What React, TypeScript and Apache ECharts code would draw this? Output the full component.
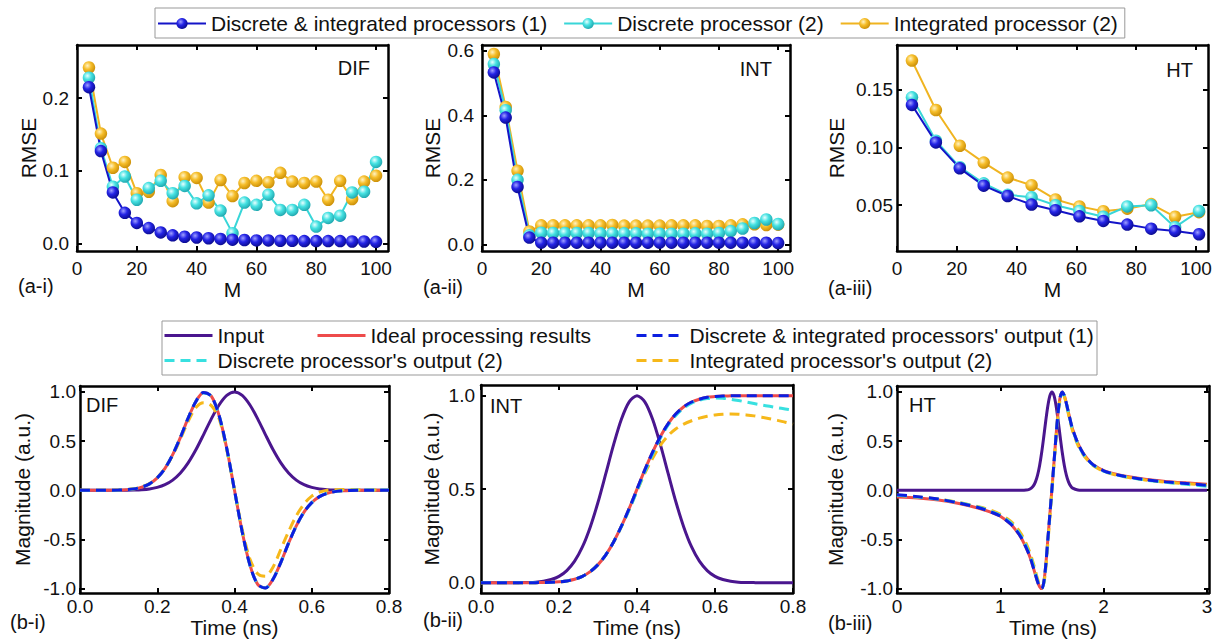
import React, { useEffect, useRef } from "react";
import * as echarts from "echarts";

// ---------------- data ----------------
const mDifInt = [4, 8, 12, 16, 20, 24, 28, 32, 36, 40, 44, 48, 52, 56, 60, 64, 68, 72, 76, 80, 84, 88, 92, 96, 100];
const mHT = [5, 13, 21, 29, 37, 45, 53, 61, 69, 77, 85, 93, 101];

const difRmseBoth = [0.215, 0.127, 0.07, 0.042, 0.028, 0.021, 0.015, 0.011, 0.009, 0.008, 0.007, 0.006, 0.005, 0.0045, 0.004, 0.004, 0.0035, 0.0035, 0.003, 0.003, 0.003, 0.003, 0.0025, 0.0025, 0.002];
const difRmseDisc = [0.228, 0.131, 0.078, 0.092, 0.06, 0.076, 0.086, 0.069, 0.079, 0.055, 0.066, 0.045, 0.014, 0.056, 0.053, 0.067, 0.046, 0.046, 0.053, 0.023, 0.035, 0.038, 0.07, 0.071, 0.112];
const difRmseInteg = [0.242, 0.151, 0.104, 0.112, 0.069, 0.071, 0.094, 0.058, 0.091, 0.09, 0.056, 0.087, 0.065, 0.083, 0.086, 0.084, 0.097, 0.085, 0.083, 0.085, 0.06, 0.086, 0.061, 0.085, 0.093];

const intRmseBoth = [0.533, 0.393, 0.178, 0.021, 0.005, 0.005, 0.005, 0.005, 0.005, 0.005, 0.005, 0.005, 0.005, 0.005, 0.005, 0.005, 0.005, 0.005, 0.005, 0.005, 0.005, 0.005, 0.005, 0.005, 0.004];
const intRmseDisc = [0.559, 0.416, 0.2, 0.028, 0.036, 0.035, 0.035, 0.035, 0.035, 0.034, 0.034, 0.034, 0.034, 0.033, 0.033, 0.033, 0.033, 0.034, 0.033, 0.035, 0.041, 0.049, 0.066, 0.077, 0.063];
const intRmseInteg = [0.59, 0.426, 0.228, 0.04, 0.059, 0.059, 0.059, 0.059, 0.059, 0.059, 0.06, 0.058, 0.058, 0.058, 0.058, 0.059, 0.059, 0.059, 0.057, 0.057, 0.059, 0.062, 0.062, 0.06, 0.061];

const htRmseBoth = [0.137, 0.1045, 0.082, 0.067, 0.058, 0.0506, 0.0457, 0.0404, 0.0364, 0.0332, 0.0297, 0.0277, 0.0248];
const htRmseDisc = [0.1436, 0.106, 0.083, 0.069, 0.059, 0.057, 0.05, 0.045, 0.04, 0.049, 0.05, 0.031, 0.045];
const htRmseInteg = [0.1755, 0.1326, 0.1016, 0.087, 0.074, 0.0674, 0.055, 0.049, 0.0448, 0.047, 0.051, 0.04, 0.044];

const pulseTime = [0, 0.02, 0.04, 0.06, 0.08, 0.1, 0.12, 0.14, 0.16, 0.18, 0.2, 0.22, 0.24, 0.26, 0.28, 0.3, 0.32, 0.34, 0.36, 0.38, 0.4, 0.42, 0.44, 0.46, 0.48, 0.5, 0.52, 0.54, 0.56, 0.58, 0.6, 0.62, 0.64, 0.66, 0.68, 0.7, 0.72, 0.74, 0.76, 0.78, 0.8];

const difInput = [0, 0, 0, 0, 0.0001, 0.0003, 0.0009, 0.0025, 0.006, 0.0135, 0.029, 0.056, 0.103, 0.175, 0.278, 0.411, 0.566, 0.726, 0.867, 0.965, 1.0, 0.965, 0.867, 0.726, 0.566, 0.411, 0.278, 0.175, 0.103, 0.056, 0.029, 0.0135, 0.006, 0.0025, 0.0009, 0.0003, 0.0001, 0, 0, 0, 0];
const difIdeal = [0, 0, 0, 0, 0.0005, 0.002, 0.006, 0.014, 0.032, 0.065, 0.126, 0.222, 0.362, 0.538, 0.733, 0.903, 0.995, 0.957, 0.762, 0.424, 0, -0.424, -0.762, -0.957, -0.995, -0.903, -0.733, -0.538, -0.362, -0.222, -0.126, -0.065, -0.032, -0.014, -0.006, -0.002, -0.0005, 0, 0, 0, 0];
const difBoth = [0, 0, 0, 0, 0.0005, 0.002, 0.006, 0.014, 0.032, 0.065, 0.126, 0.222, 0.362, 0.538, 0.733, 0.903, 0.995, 0.957, 0.762, 0.424, 0, -0.424, -0.762, -0.957, -0.995, -0.903, -0.733, -0.538, -0.362, -0.222, -0.126, -0.065, -0.032, -0.014, -0.006, -0.002, -0.0005, 0, 0, 0, 0];
const difDisc = [0, 0, 0, 0, 0.0005, 0.002, 0.006, 0.014, 0.032, 0.065, 0.126, 0.222, 0.362, 0.538, 0.733, 0.903, 0.99, 0.955, 0.762, 0.424, 0, -0.424, -0.762, -0.957, -0.995, -0.903, -0.733, -0.538, -0.362, -0.222, -0.126, -0.065, -0.03, -0.012, -0.004, 0, 0.002, 0.003, 0.003, 0.002, 0.002];
const difInteg = [0, 0, 0, 0, 0.0005, 0.002, 0.006, 0.015, 0.034, 0.068, 0.128, 0.222, 0.355, 0.52, 0.7, 0.84, 0.89, 0.86, 0.73, 0.41, 0, -0.4, -0.7, -0.85, -0.875, -0.78, -0.6, -0.42, -0.26, -0.14, -0.06, -0.02, 0, 0.006, 0.008, 0.007, 0.005, 0.003, 0.002, 0.001, 0];

const intInput = [0, 0, 0, 0, 0, 0.0005, 0.0013, 0.003, 0.008, 0.017, 0.034, 0.065, 0.115, 0.191, 0.297, 0.43, 0.583, 0.738, 0.874, 0.967, 1.0, 0.967, 0.874, 0.738, 0.583, 0.43, 0.297, 0.191, 0.115, 0.065, 0.034, 0.017, 0.008, 0.003, 0.0013, 0.0005, 0, 0, 0, 0, 0];
const intIdeal = [0, 0, 0, 0, 0, 0.0001, 0.0002, 0.0004, 0.0009, 0.0021, 0.0047, 0.0096, 0.0188, 0.0344, 0.0594, 0.0968, 0.149, 0.218, 0.302, 0.397, 0.5, 0.603, 0.698, 0.782, 0.851, 0.903, 0.941, 0.966, 0.981, 0.991, 0.995, 0.998, 0.999, 1, 1, 1, 1, 1, 1, 1, 1];
const intBoth = [0, 0, 0, 0, 0, 0.0001, 0.0002, 0.0004, 0.0009, 0.0021, 0.0047, 0.0096, 0.0188, 0.0344, 0.0594, 0.0968, 0.149, 0.218, 0.302, 0.397, 0.5, 0.603, 0.698, 0.782, 0.851, 0.903, 0.941, 0.966, 0.981, 0.991, 0.995, 0.998, 0.999, 1, 1, 1, 1, 1, 1, 1, 1];
const intDisc = [0, 0, 0, 0, 0, 0.0001, 0.0002, 0.0004, 0.0009, 0.0021, 0.0047, 0.0096, 0.0188, 0.0344, 0.0594, 0.0968, 0.149, 0.218, 0.3, 0.39, 0.49, 0.592, 0.688, 0.773, 0.843, 0.896, 0.934, 0.96, 0.976, 0.985, 0.988, 0.986, 0.981, 0.974, 0.966, 0.958, 0.95, 0.943, 0.936, 0.929, 0.922];
const intInteg = [0, 0, 0, 0, 0, 0.0001, 0.0002, 0.0004, 0.0009, 0.0021, 0.0047, 0.0096, 0.0188, 0.0344, 0.0594, 0.0968, 0.149, 0.218, 0.3, 0.392, 0.49, 0.585, 0.665, 0.735, 0.787, 0.823, 0.848, 0.866, 0.88, 0.89, 0.897, 0.901, 0.902, 0.901, 0.897, 0.892, 0.885, 0.877, 0.868, 0.858, 0.848];

const htTime = [0, 0.2, 0.4, 0.6, 0.8, 0.9, 1.0, 1.1, 1.15, 1.2, 1.25, 1.28, 1.3, 1.32, 1.34, 1.36, 1.38, 1.4, 1.42, 1.44, 1.46, 1.48, 1.5, 1.52, 1.54, 1.56, 1.58, 1.6, 1.62, 1.64, 1.66, 1.68, 1.7, 1.75, 1.8, 1.85, 1.9, 2.0, 2.1, 2.2, 2.4, 2.6, 2.8, 3.0];
const htInput = [0, 0, 0, 0, 0, 0, 0, 0, 0, 0.0002, 0.0024, 0.0094, 0.021, 0.044, 0.085, 0.151, 0.249, 0.381, 0.539, 0.707, 0.857, 0.962, 1.0, 0.962, 0.857, 0.707, 0.539, 0.381, 0.249, 0.151, 0.085, 0.044, 0.021, 0.0024, 0.0002, 0, 0, 0, 0, 0, 0, 0, 0, 0];
const htIdeal = [-0.07, -0.08, -0.1, -0.135, -0.185, -0.22, -0.265, -0.345, -0.405, -0.48, -0.585, -0.66, -0.72, -0.79, -0.86, -0.93, -0.98, -1.0, -0.94, -0.76, -0.5, -0.24, 0.02, 0.29, 0.56, 0.8, 0.95, 1.0, 0.96, 0.88, 0.79, 0.7, 0.62, 0.48, 0.38, 0.31, 0.26, 0.2, 0.168, 0.145, 0.112, 0.09, 0.075, 0.062];
const htBoth = [-0.045, -0.065, -0.09, -0.13, -0.18, -0.218, -0.263, -0.343, -0.403, -0.478, -0.583, -0.658, -0.718, -0.788, -0.858, -0.928, -0.978, -1.0, -0.94, -0.76, -0.5, -0.24, 0.02, 0.29, 0.56, 0.8, 0.95, 1.0, 0.96, 0.88, 0.79, 0.7, 0.62, 0.48, 0.378, 0.308, 0.258, 0.198, 0.165, 0.142, 0.108, 0.085, 0.068, 0.05];
const htDisc = [-0.05, -0.07, -0.092, -0.128, -0.175, -0.21, -0.255, -0.33, -0.39, -0.465, -0.565, -0.64, -0.7, -0.77, -0.845, -0.92, -0.975, -0.995, -0.95, -0.77, -0.51, -0.25, 0.01, 0.28, 0.55, 0.79, 0.94, 0.995, 0.96, 0.88, 0.785, 0.695, 0.615, 0.475, 0.375, 0.305, 0.255, 0.195, 0.162, 0.14, 0.105, 0.08, 0.06, 0.04];
const htInteg = [-0.05, -0.068, -0.09, -0.125, -0.17, -0.2, -0.245, -0.315, -0.37, -0.44, -0.54, -0.615, -0.675, -0.745, -0.82, -0.9, -0.955, -0.975, -0.95, -0.8, -0.54, -0.27, 0, 0.27, 0.54, 0.78, 0.93, 0.98, 0.95, 0.87, 0.77, 0.68, 0.6, 0.46, 0.365, 0.3, 0.25, 0.193, 0.16, 0.138, 0.105, 0.082, 0.066, 0.052];

// tick values
const rmseMTicks = [0, 20, 40, 60, 80, 100];
const difRmseTicks = [0, 0.1, 0.2];
const intRmseTicks = [0, 0.2, 0.4, 0.6];
const htRmseTicks = [0.05, 0.1, 0.15];
const pulseTimeTicks = [0, 0.2, 0.4, 0.6, 0.8];
const htTimeTicks = [0, 1, 2, 3];
const magTicks = [-1, -0.5, 0, 0.5, 1];
const intMagTicks = [0, 0.5, 1];

// names
const S1 = "Discrete & integrated processors (1)";
const S2 = "Discrete processor (2)";
const S3 = "Integrated processor (2)";
const B1 = "Input";
const B2 = "Ideal processing results";
const B3 = "Discrete & integrated processors' output (1)";
const B4 = "Discrete processor's output (2)";
const B5 = "Integrated processor's output (2)";

// ---------------- styling ----------------
const FONT = '"Liberation Sans", Arial, Helvetica, sans-serif';
const TXT = "#111";

const ball = (hi: string, mid: string, lo: string) => ({
  type: "radial",
  x: 0.38,
  y: 0.35,
  r: 0.68,
  colorStops: [
    { offset: 0, color: hi },
    { offset: 0.45, color: mid },
    { offset: 1, color: lo },
  ],
});

const BLUE_LINE = "#1414c8";
const CYAN_LINE = "#38d6d8";
const YELLOW_LINE = "#f0b420";
const BLUE_BALL = ball("#a0a0ff", "#2424e6", "#0a0a8c");
const CYAN_BALL = ball("#e8ffff", "#46e2e2", "#1fa5ad");
const YELLOW_BALL = ball("#fff3c4", "#f6be2a", "#c98d06");

const C_INPUT = "#4a168e";
const C_IDEAL = "#ee4b4b";
const C_BOTH = "#0c1fe0";
const C_DISC = "#38e0e0";
const C_INTEG = "#f6b81a";
const DASH = [10, 6];

type Panel = {
  left: number; top: number; width: number; height: number;
  xMin: number; xMax: number; xTicks: number[]; xFmt: (v: number) => string; xName: string; xNameGap: number; xMargin: number;
  yMin: number; yMax: number; yTicks: number[]; yFmt: (v: number) => string; yName: string; yNameGap: number; yMargin: number;
};

const f0 = (v: number) => String(Math.round(v));
const f1 = (v: number) => v.toFixed(1);
const f2 = (v: number) => v.toFixed(2);

const panels: Panel[] = [
  { left: 77, top: 45, width: 311, height: 206, xMin: 0, xMax: 104, xTicks: rmseMTicks, xFmt: f0, xName: "M", xNameGap: 26, xMargin: 8,
    yMin: -0.0106, yMax: 0.273, yTicks: difRmseTicks, yFmt: f1, yName: "RMSE", yNameGap: 38, yMargin: 8 },
  { left: 482, top: 45, width: 308, height: 206, xMin: 0, xMax: 104, xTicks: rmseMTicks, xFmt: f0, xName: "M", xNameGap: 26, xMargin: 8,
    yMin: -0.0207, yMax: 0.618, yTicks: intRmseTicks, yFmt: f1, yName: "RMSE", yNameGap: 39, yMargin: 8 },
  { left: 897, top: 45, width: 311, height: 206, xMin: 0, xMax: 104, xTicks: rmseMTicks, xFmt: f0, xName: "M", xNameGap: 26, xMargin: 8,
    yMin: 0.0103, yMax: 0.189, yTicks: htRmseTicks, yFmt: f2, yName: "RMSE", yNameGap: 50, yMargin: 4 },
  { left: 80, top: 386, width: 309, height: 207, xMin: 0, xMax: 0.8, xTicks: pulseTimeTicks, xFmt: f1, xName: "Time (ns)", xNameGap: 24, xMargin: 4,
    yMin: -1.045, yMax: 1.06, yTicks: magTicks, yFmt: f1, yName: "Magnitude (a.u.)", yNameGap: 47, yMargin: 4 },
  { left: 481, top: 385, width: 312, height: 208, xMin: 0, xMax: 0.8, xTicks: pulseTimeTicks, xFmt: f1, xName: "Time (ns)", xNameGap: 24, xMargin: 4,
    yMin: -0.055, yMax: 1.057, yTicks: intMagTicks, yFmt: f1, yName: "Magnitude (a.u.)", yNameGap: 39, yMargin: 6 },
  { left: 897, top: 386, width: 312, height: 207, xMin: 0, xMax: 3.02, xTicks: htTimeTicks, xFmt: f0, xName: "Time (ns)", xNameGap: 24, xMargin: 4,
    yMin: -1.045, yMax: 1.06, yTicks: magTicks, yFmt: f1, yName: "Magnitude (a.u.)", yNameGap: 51, yMargin: 4 },
];

const axisLine = { show: true, onZero: false, lineStyle: { color: "#000", width: 2.5 } };
const tick = (vals: number[]) => ({ show: true, inside: true, length: 5, customValues: vals, lineStyle: { color: "#000", width: 2 } });

function buildAxes() {
  const xAxes: any[] = [];
  const yAxes: any[] = [];
  panels.forEach((p, i) => {
    xAxes.push({
      type: "value", gridIndex: i, position: "bottom", min: p.xMin, max: p.xMax,
      axisLine, axisTick: tick(p.xTicks), splitLine: { show: false },
      axisLabel: { customValues: p.xTicks, formatter: p.xFmt, fontSize: 19, color: TXT, fontFamily: FONT, margin: p.xMargin },
      name: p.xName, nameLocation: "middle", nameGap: p.xNameGap,
      nameTextStyle: { fontSize: 21, color: TXT, fontFamily: FONT },
    });
    yAxes.push({
      type: "value", gridIndex: i, position: "left", min: p.yMin, max: p.yMax,
      axisLine, axisTick: tick(p.yTicks), splitLine: { show: false },
      axisLabel: { customValues: p.yTicks, formatter: p.yFmt, fontSize: 19, color: TXT, fontFamily: FONT, margin: p.yMargin },
      name: p.yName, nameLocation: "middle", nameGap: p.yNameGap,
      nameTextStyle: { fontSize: 21, color: TXT, fontFamily: FONT },
    });
  });
  panels.forEach((p, i) => {
    xAxes.push({
      type: "value", gridIndex: i, position: "top", min: p.xMin, max: p.xMax,
      axisLine, axisTick: tick(p.xTicks), splitLine: { show: false }, axisLabel: { show: false },
    });
    yAxes.push({
      type: "value", gridIndex: i, position: "right", min: p.yMin, max: p.yMax,
      axisLine, axisTick: tick(p.yTicks), splitLine: { show: false }, axisLabel: { show: false },
    });
  });
  return { xAxes, yAxes };
}

const pairs = (xs: number[], ys: number[]) => xs.map((x, i) => [x, ys[i]]);

function rmse(name: string, gi: number, xs: number[], ys: number[], line: string, fill: any) {
  return {
    type: "line", name, xAxisIndex: gi, yAxisIndex: gi, data: pairs(xs, ys),
    symbol: "circle", symbolSize: 12.5, showSymbol: true,
    lineStyle: { color: line, width: 2 }, itemStyle: { color: fill, borderWidth: 0 },
    emphasis: { disabled: true },
  };
}

function curve(name: string, gi: number, xs: number[], ys: number[], color: string, dashed: boolean) {
  return {
    type: "line", name, xAxisIndex: gi, yAxisIndex: gi, data: pairs(xs, ys),
    symbol: "none", showSymbol: false, smooth: 0.3,
    lineStyle: { color, width: 3, type: dashed ? DASH : "solid" },
    itemStyle: { color },
    emphasis: { disabled: true },
  };
}

function buildSeries() {
  const s: any[] = [];
  const rm: [number[], number[], number[], number[]][] = [
    [mDifInt, difRmseBoth, difRmseDisc, difRmseInteg],
    [mDifInt, intRmseBoth, intRmseDisc, intRmseInteg],
    [mHT, htRmseBoth, htRmseDisc, htRmseInteg],
  ];
  rm.forEach(([xs, both, disc, integ], gi) => {
    s.push(rmse(S3, gi, xs, integ, YELLOW_LINE, YELLOW_BALL));
    s.push(rmse(S2, gi, xs, disc, CYAN_LINE, CYAN_BALL));
    s.push(rmse(S1, gi, xs, both, BLUE_LINE, BLUE_BALL));
  });
  const cv: [number[], number[], number[], number[], number[], number[]][] = [
    [pulseTime, difInput, difIdeal, difBoth, difDisc, difInteg],
    [pulseTime, intInput, intIdeal, intBoth, intDisc, intInteg],
    [htTime, htInput, htIdeal, htBoth, htDisc, htInteg],
  ];
  cv.forEach(([xs, inp, ideal, both, disc, integ], k) => {
    const gi = k + 3;
    s.push(curve(B1, gi, xs, inp, C_INPUT, false));
    s.push(curve(B2, gi, xs, ideal, C_IDEAL, false));
    s.push(curve(B5, gi, xs, integ, C_INTEG, true));
    s.push(curve(B4, gi, xs, disc, C_DISC, true));
    s.push(curve(B3, gi, xs, both, C_BOTH, true));
  });
  return s;
}

const legendText = { fontSize: 21, color: TXT, fontFamily: FONT };

function bottomLegend(name: string, left: number, top: number, dashed: boolean) {
  return {
    left, top, padding: 0, itemWidth: 48, itemHeight: 14, selectedMode: false,
    textStyle: legendText, data: [name],
    itemStyle: { opacity: 0 },
    lineStyle: { width: 3, type: dashed ? DASH : "solid" },
  };
}

function label(text: string, x: number, y: number, align: string, size = 20) {
  return {
    type: "text", x, y, silent: true,
    style: { text, fill: TXT, fontSize: size, fontFamily: FONT, textAlign: align, textVerticalAlign: "middle", align, verticalAlign: "middle" },
  };
}

function buildOption() {
  const { xAxes, yAxes } = buildAxes();
  return {
    animation: false,
    backgroundColor: "#fff",
    grid: panels.map((p) => ({ left: p.left, top: p.top, width: p.width, height: p.height, containLabel: false })),
    xAxis: xAxes,
    yAxis: yAxes,
    legend: [
      {
        left: 155, top: 8, orient: "horizontal", itemGap: 16, itemWidth: 48, itemHeight: 14,
        padding: [5, 7, 4, 2], borderColor: "#999", borderWidth: 1, selectedMode: false,
        textStyle: legendText, data: [S1, S2, S3],
      },
      bottomLegend(B1, 163, 325, false),
      bottomLegend(B2, 316, 325, false),
      bottomLegend(B3, 635, 325, true),
      bottomLegend(B4, 163, 350, true),
      bottomLegend(B5, 635, 350, true),
    ],
    graphic: [
      { type: "rect", silent: true, z: -1, shape: { x: 162, y: 321, width: 935, height: 54 }, style: { fill: "#fff", stroke: "#999", lineWidth: 1 } },
      label("DIF", 370, 68, "right"),
      label("INT", 772, 69, "right"),
      label("HT", 1193, 70, "right"),
      label("DIF", 86, 405, "left"),
      label("INT", 490, 406, "left"),
      label("HT", 909, 405, "left"),
      label("(a-i)", 18, 286, "left"),
      label("(a-ii)", 423, 287, "left"),
      label("(a-iii)", 828, 288, "left"),
      label("(b-i)", 10, 622, "left"),
      label("(b-ii)", 423, 620, "left"),
      label("(b-iii)", 828, 623, "left"),
    ],
    series: buildSeries(),
  };
}

export default function App() {
  const ref = useRef<HTMLDivElement>(null);
  useEffect(() => {
    document.body.style.margin = "0";
    if (!ref.current) return;
    const chart = echarts.init(ref.current, null, { renderer: "svg" });
    chart.setOption(buildOption() as any);
    return () => chart.dispose();
  }, []);
  return <div ref={ref} style={{ width: 1219, height: 644, background: "#fff" }} />;
}
